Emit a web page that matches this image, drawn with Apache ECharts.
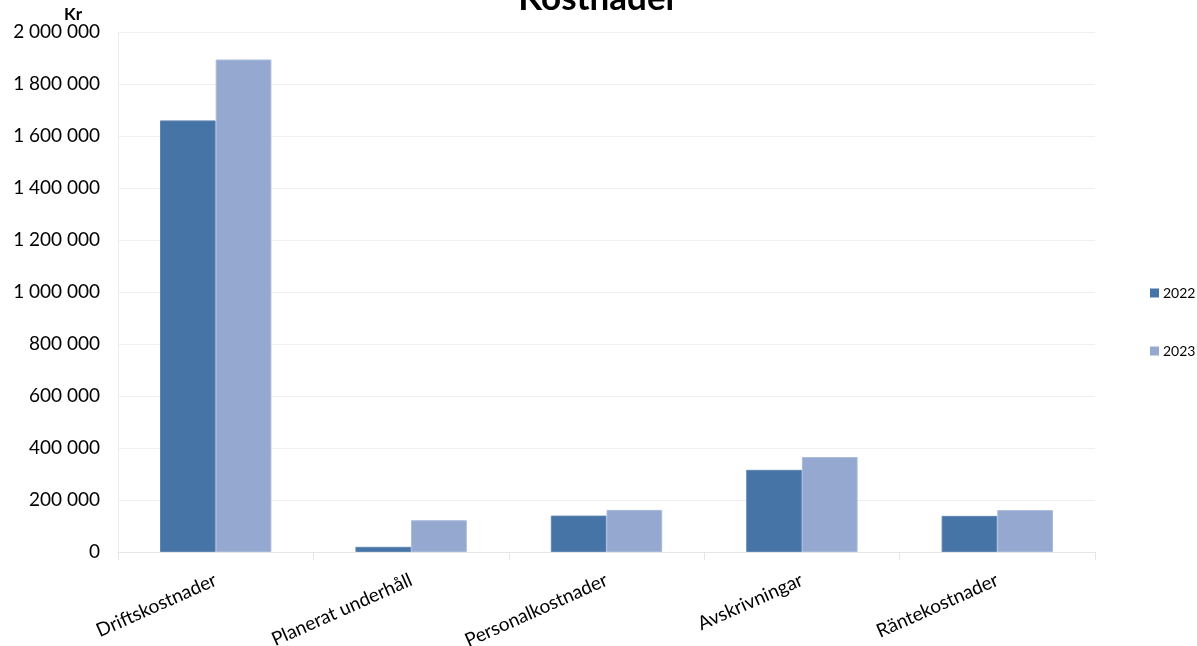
<!DOCTYPE html>
<html><head><meta charset="utf-8">
<script src="https://cdn.jsdelivr.net/npm/echarts@6/dist/echarts.min.js"></script>
<style>html,body{margin:0;padding:0;background:#fff}#c{width:1197px;height:646px}</style>
</head><body><div id="c"></div>
<script>
const categories = ['Driftskostnader','Planerat underhåll','Personalkostnader','Avskrivningar','Räntekostnader'];
const values2022 = [1660000, 20000, 140000, 316000, 139000];
const values2023 = [1894000, 122000, 162000, 365000, 161000];
const seriesNames = ['2022','2023'];
const FONT = 'Lato';
const chart = echarts.init(document.getElementById('c'));
chart.setOption({
  animation:false,
  title:{text:'Kostnader', left:'center', top:-19, padding:0, textStyle:{fontFamily:FONT,fontSize:35,fontWeight:'bold',color:'#000'}},
  legend:{orient:'vertical', left:1150, top:286, padding:0, itemGap:44, itemWidth:9, itemHeight:9, icon:'rect',
    textStyle:{fontFamily:FONT,fontSize:14,color:'#000', padding:[0,0,0,-1]}, itemStyle:{borderWidth:0}},
  grid:{left:118, right:102, top:32, bottom:94, containLabel:false, outerBoundsMode:'none'},
  xAxis:{type:'category', data:categories,
    axisLine:{lineStyle:{color:'#e6e6e6'}}, axisTick:{show:true, length:8, lineStyle:{color:'#e6e6e6'}},
    axisLabel:{rotate:24, fontFamily:FONT, fontSize:19, color:'#000', margin:27, interval:0}},
  yAxis:{type:'value', min:0, max:2000000, interval:200000, name:'Kr', nameLocation:'end', nameGap:10,
    nameTextStyle:{fontFamily:FONT,fontSize:17,fontWeight:'bold',color:'#000', align:'center', padding:[0,0,0,-90], verticalAlign:'middle'},
    axisLine:{show:true, lineStyle:{color:'#ececec'}}, axisTick:{show:false},
    splitLine:{lineStyle:{color:'#f0f0f0'}},
    axisLabel:{fontFamily:FONT,fontSize:19,color:'#000', margin:18,
      formatter:v=>String(v).replace(/\B(?=(\d{3})+(?!\d))/g,' ')}},
  series:[
    {name:seriesNames[0], type:'bar', data:values2022, barGap:'0%', barCategoryGap:'43%',
      itemStyle:{color:'#4674a6', borderColor:'#5f86b3', borderWidth:1}},
    {name:seriesNames[1], type:'bar', data:values2023,
      itemStyle:{color:'#95a9d0', borderColor:'#a7b8da', borderWidth:1}}
  ]
});
</script></body></html>
